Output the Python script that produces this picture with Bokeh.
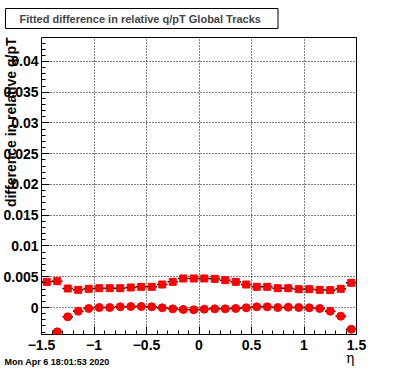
import numpy as np
from bokeh.plotting import figure
from bokeh.models import FixedTicker, ColumnDataSource, Title
from bokeh.embed import file_html
from bokeh.resources import INLINE

# ---- data ----
eta_centers = [-1.45, -1.35, -1.25, -1.15, -1.05, -0.95, -0.85, -0.75, -0.65, -0.55,
               -0.45, -0.35, -0.25, -0.15, -0.05, 0.05, 0.15, 0.25, 0.35, 0.45,
               0.55, 0.65, 0.75, 0.85, 0.95, 1.05, 1.15, 1.25, 1.35, 1.45]
bin_half_width = 0.05
square_vals = [0.00417, 0.00428, 0.00309, 0.00287, 0.00304, 0.00314, 0.00314, 0.00314, 0.00325, 0.00336,
               0.00336, 0.00374, 0.00417, 0.00472, 0.00472, 0.00472, 0.00466, 0.00444, 0.00417, 0.00374,
               0.00336, 0.00336, 0.00314, 0.00314, 0.00298, 0.00298, 0.00287, 0.00282, 0.00304, 0.00401]
circle_vals = [float("nan"), -0.00396, -0.00152, -0.00060, -0.00016, 0.0, 0.0, 0.00011, 0.00016, 0.00016,
               0.00011, -0.00005, -0.00022, -0.00033, -0.00038, -0.00027, -0.00022, -0.00022, -0.00016, -0.00005,
               0.00011, 0.00011, 0.0, 0.00005, 0.0, -0.00005, -0.00016, -0.00060, -0.00141, -0.00353]

x_ticks = [-1.5, -1.0, -0.5, 0.0, 0.5, 1.0, 1.5]
x_tick_labels = ["\u22121.5", "\u22121", "\u22120.5", "0", "0.5", "1", "1.5"]
y_ticks = [0.0, 0.005, 0.01, 0.015, 0.02, 0.025, 0.03, 0.035, 0.04]
y_tick_labels = ["0", "0.005", "0.01", "0.015", "0.02", "0.025", "0.03", "0.035", "0.04"]

title_text = "Fitted difference in relative q/pT  Global Tracks"
y_title = "difference in relative q/pT"
x_title = "\u03b7"
date_text = "Mon Apr  6 18:01:53 2020"

# ---- figure ----
p = figure(width=396, height=372, output_backend="svg", toolbar_location=None,
           x_range=(-1.5, 1.5), y_range=(-0.00439, 0.0439),
           min_border_left=40, min_border_right=40, min_border_top=37, min_border_bottom=38)
p.outline_line_color = "black"
p.outline_line_width = 1
p.background_fill_color = "white"
p.border_fill_color = "white"

# title box
p.title.text = title_text
p.title.align = "left"
p.title.vertical_align = "top"
p.title.text_font = "Liberation Sans"
p.title.text_font_style = "bold"
p.title.text_font_size = "11px"
p.title.border_line_color = "black"
p.title.border_line_width = 1
p.title.background_fill_color = "white"
p.title.offset = -36
p.title.standoff = 14
try:
    p.title.padding = dict(left=14, right=14, top=4, bottom=4)
except Exception:
    pass

xt = FixedTicker(ticks=x_ticks, minor_ticks=[float(v) for v in np.round(np.arange(-1.5, 1.5001, 0.1), 4)])
yt = FixedTicker(ticks=y_ticks, minor_ticks=[float(v) for v in np.round(np.arange(-0.004, 0.0435, 0.001), 5)])
p.xaxis.ticker = xt
p.yaxis.ticker = yt
p.xaxis.major_label_overrides = {t: l for t, l in zip(x_ticks, x_tick_labels)}
p.yaxis.major_label_overrides = {t: l for t, l in zip(y_ticks, y_tick_labels)}

for ax in (p.xaxis[0], p.yaxis[0]):
    ax.axis_line_color = None
    ax.major_tick_in = 8
    ax.major_tick_out = 0
    ax.minor_tick_in = 4
    ax.minor_tick_out = 0
    ax.major_tick_line_color = "black"
    ax.minor_tick_line_color = "black"
    ax.major_label_text_font = "Liberation Sans"
    ax.major_label_text_font_style = "bold"
    ax.major_label_text_font_size = "14px"
    ax.major_label_text_color = "black"
p.xaxis.major_label_standoff = 5
p.yaxis.major_label_standoff = 3

# y-axis title (left side, reads upward, ends at the frame top)
y_title_obj = Title(text=y_title, align="right", vertical_align="bottom", offset=0,
                    text_font="Liberation Sans", text_font_style="bold", text_font_size="14px",
                    text_color="black")
# x-axis title (eta, bottom right)
x_title_obj = Title(text=x_title, align="right", vertical_align="top", offset=2,
                    text_font="DejaVu Serif", text_font_style="normal", text_font_size="14px",
                    text_color="black")
# date stamp
date_title = Title(text=date_text, align="left", vertical_align="top", offset=-37,
                   text_font="Liberation Sans", text_font_style="bold", text_font_size="9px",
                   text_color="black")
try:
    y_title_obj.standoff = -36
    x_title_obj.standoff = -6
    date_title.standoff = -16
except Exception:
    pass
p.add_layout(y_title_obj, "left")
p.add_layout(x_title_obj, "below")
p.add_layout(date_title, "below")

for g in (p.xgrid[0], p.ygrid[0]):
    g.grid_line_color = "black"
    g.grid_line_dash = "1 2"
    g.grid_line_width = 1

src_sq = ColumnDataSource(dict(x=eta_centers, y=square_vals,
                               x0=[c - bin_half_width for c in eta_centers],
                               x1=[c + bin_half_width for c in eta_centers]))
src_ci = ColumnDataSource(dict(x=eta_centers, y=circle_vals,
                               x0=[c - bin_half_width for c in eta_centers],
                               x1=[c + bin_half_width for c in eta_centers]))

p.segment(x0="x0", y0="y", x1="x1", y1="y", source=src_sq, line_color="black", line_width=1.5)
p.segment(x0="x0", y0="y", x1="x1", y1="y", source=src_ci, line_color="black", line_width=1.5)
p.scatter("x", "y", source=src_sq, marker="square", size=7, fill_color="#ff0000", line_color="#ff0000")
p.scatter("x", "y", source=src_ci, marker="circle", size=8, fill_color="#ff0000", line_color="#ff0000")

open("out.html", "w").write(file_html(p, INLINE))
